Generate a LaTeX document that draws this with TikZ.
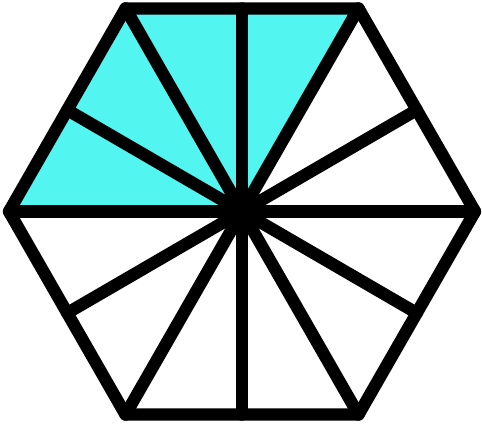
\documentclass[tikz,border=0pt]{standalone}
\usetikzlibrary{calc}
\definecolor{Aqua}{RGB}{82,245,240}
\tikzset{
  edge/.style  = {line width=7pt, line join=round, line cap=round},
  piece/.style = {fill=Aqua}
}
\begin{document}
\begin{tikzpicture}[x=0.02cm,y=0.02cm]
\useasboundingbox (0,0) rectangle (482,426);
\coordinate (c) at (242,214.5);
% vertices on even, edge midpoints on odd
\foreach \i in {0,2,...,10}
  \coordinate (p\i) at ($(c)+(\i*30:233 and 234.5)$);
\foreach \i/\a/\b in {1/0/2,3/2/4,5/4/6,7/6/8,9/8/10,11/10/0}
  \coordinate (p\i) at ($(p\a)!0.5!(p\b)$);
\fill[piece] (c) -- (p2) -- (p3) -- (p4) -- (p5) -- (p6) -- cycle;
\foreach \i in {0,...,11}
  \draw[edge] (c) -- (p\i);
\draw[edge] (p0) -- (p2) -- (p4) -- (p6) -- (p8) -- (p10) -- cycle;
\end{tikzpicture}
\end{document}
